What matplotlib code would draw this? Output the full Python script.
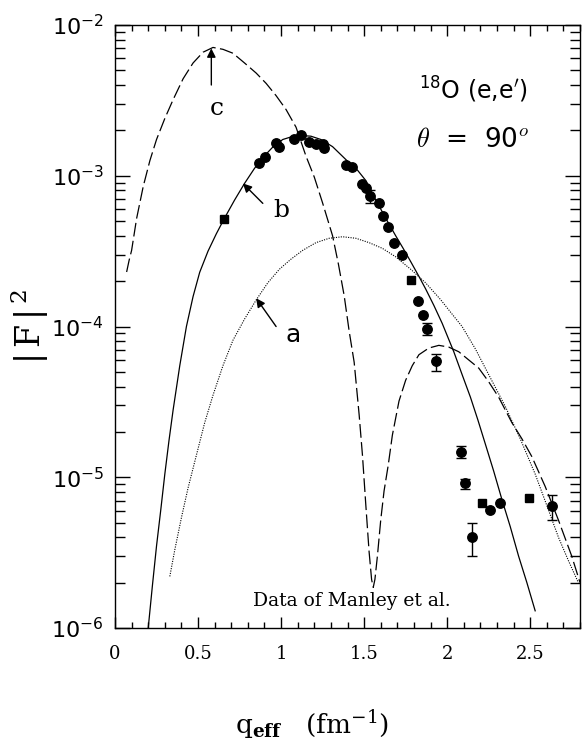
import numpy as np
import matplotlib.pyplot as plt
from matplotlib.ticker import MultipleLocator, FuncFormatter

plt.rcParams['font.family'] = 'DejaVu Serif'
plt.rcParams['mathtext.fontset'] = 'dejavuserif'

# Manley et al. data, |F|^2 vs q_eff (fm^-1)
q_circ = [0.866, 0.906, 0.970, 0.985, 1.078, 1.12, 1.17, 1.21, 1.254, 1.26,
          1.39, 1.43, 1.49, 1.51, 1.59, 1.616, 1.646, 1.68, 1.73, 1.826, 1.854,
          2.256, 2.32]
f_circ = [1.22e-3, 1.33e-3, 1.66e-3, 1.56e-3, 1.75e-3, 1.86e-3, 1.68e-3, 1.62e-3,
          1.62e-3, 1.52e-3, 1.17e-3, 1.14e-3, 8.8e-4, 8.3e-4, 6.56e-4, 5.37e-4,
          4.55e-4, 3.6e-4, 2.98e-4, 1.48e-4, 1.19e-4, 6.1e-6, 6.8e-6]
q_sq = [0.654, 1.78, 2.21, 2.49]
f_sq = [5.2e-4, 2.03e-4, 6.8e-6, 7.3e-6]

# points with error bars
q_err = [1.534, 1.88, 1.93, 2.085, 2.106, 2.15, 2.63]
f_err = [7.3e-4, 9.6e-5, 5.9e-5, 1.48e-5, 9.1e-6, 4.0e-6, 6.4e-6]
f_err_lo = [6.6e-4, 8.8e-5, 5.1e-5, 1.35e-5, 8.3e-6, 3.0e-6, 5.2e-6]
f_err_hi = [8.0e-4, 1.05e-4, 6.6e-5, 1.6e-5, 9.7e-6, 4.95e-6, 7.6e-6]

# curve a (dotted)
q_a = [0.33, 0.36, 0.40, 0.44, 0.49, 0.54, 0.59, 0.65, 0.71, 0.78, 0.85, 0.92,
       0.99, 1.06, 1.13, 1.21, 1.29, 1.37, 1.45, 1.53, 1.61, 1.69, 1.78, 1.87,
       1.96, 2.04, 2.09, 2.17, 2.25, 2.35, 2.44, 2.53, 2.60, 2.67, 2.73, 2.79]
f_a = [2.2e-6, 3.3e-6, 5.4e-6, 8.5e-6, 1.4e-5, 2.3e-5, 3.5e-5, 5.5e-5, 8.1e-5,
       1.12e-4, 1.5e-4, 1.95e-4, 2.4e-4, 2.8e-4, 3.2e-4, 3.6e-4, 3.85e-4, 3.94e-4,
       3.85e-4, 3.6e-4, 3.3e-4, 2.9e-4, 2.4e-4, 1.95e-4, 1.51e-4, 1.17e-4, 1.0e-4,
       7.1e-5, 4.8e-5, 2.95e-5, 1.8e-5, 1.05e-5, 6.5e-6, 4.0e-6, 2.8e-6, 2.0e-6]

# curve b (solid)
q_b = [0.20, 0.225, 0.25, 0.275, 0.30, 0.325, 0.35, 0.39, 0.43, 0.47, 0.51, 0.56,
       0.61, 0.66, 0.72, 0.78, 0.84, 0.89, 0.95, 1.01, 1.06, 1.12, 1.18, 1.24,
       1.31, 1.40, 1.46, 1.51, 1.55, 1.59, 1.64, 1.69, 1.735, 1.78, 1.83, 1.87,
       1.92, 1.97, 2.04, 2.09, 2.14, 2.185, 2.23, 2.28, 2.33, 2.38, 2.43, 2.48,
       2.53]
f_b = [1.0e-6, 1.9e-6, 3.5e-6, 6.0e-6, 1.05e-5, 1.75e-5, 2.8e-5, 5.5e-5, 1.0e-4,
       1.58e-4, 2.29e-4, 3.16e-4, 4.12e-4, 5.25e-4, 6.9e-4, 8.9e-4, 1.12e-3,
       1.32e-3, 1.55e-3, 1.74e-3, 1.81e-3, 1.85e-3, 1.83e-3, 1.74e-3, 1.56e-3,
       1.25e-3, 1.09e-3, 9.3e-4, 7.6e-4, 6.3e-4, 5.0e-4, 4.0e-4, 3.3e-4, 2.7e-4,
       2.15e-4, 1.78e-4, 1.38e-4, 1.05e-4, 6.8e-5, 4.8e-5, 3.4e-5, 2.4e-5, 1.66e-5,
       1.1e-5, 7.1e-6, 4.7e-6, 3.0e-6, 2.0e-6, 1.3e-6]

# curve c (dashed)
q_c = [0.07, 0.085, 0.10, 0.13, 0.17, 0.21, 0.25, 0.30, 0.35, 0.41, 0.47, 0.53,
       0.59, 0.65, 0.71, 0.78, 0.85, 0.91, 0.97, 1.03, 1.09, 1.15, 1.20, 1.25,
       1.31, 1.345, 1.38, 1.41, 1.44, 1.47, 1.49, 1.51, 1.53, 1.545, 1.555, 1.565,
       1.58, 1.60, 1.62, 1.645, 1.67, 1.71, 1.75, 1.79, 1.83, 1.89, 1.95, 2.01,
       2.07, 2.13, 2.19, 2.25, 2.31, 2.39, 2.45, 2.51, 2.59, 2.67, 2.75, 2.80]
f_c = [2.3e-4, 2.75e-4, 3.2e-4, 5.2e-4, 8.5e-4, 1.26e-3, 1.74e-3, 2.4e-3, 3.2e-3,
       4.4e-3, 5.6e-3, 6.6e-3, 7.1e-3, 6.9e-3, 6.5e-3, 5.6e-3, 4.8e-3, 4.1e-3,
       3.4e-3, 2.75e-3, 2.1e-3, 1.35e-3, 9.8e-4, 6.6e-4, 4.0e-4, 2.6e-4, 1.6e-4,
       9.3e-5, 5.8e-5, 2.6e-5, 1.4e-5, 6.6e-6, 3.2e-6, 2.1e-6, 1.86e-6, 2.1e-6,
       3.0e-6, 5.2e-6, 8.1e-6, 1.2e-5, 1.9e-5, 3.2e-5, 4.4e-5, 5.5e-5, 6.5e-5,
       7.2e-5, 7.5e-5, 7.3e-5, 6.8e-5, 6.0e-5, 5.3e-5, 4.3e-5, 3.4e-5, 2.3e-5,
       1.8e-5, 1.37e-5, 8.7e-6, 5.2e-6, 3.0e-6, 2.0e-6]

fig = plt.figure(figsize=(5.82, 7.47), dpi=100)
ax = fig.add_axes([0.1976, 0.1593, 0.7990, 0.8072])

ax.plot(q_a, f_a, color='black', lw=0.8, dashes=(1.0, 1.2))
ax.plot(q_b, f_b, color='black', lw=0.9)
ax.plot(q_c, f_c, color='black', lw=0.9, dashes=(11, 3.5))

ax.plot(q_circ, f_circ, 'o', color='black', ms=6.8)
ax.plot(q_sq, f_sq, 's', color='black', ms=6.2)
yerr = [np.array(f_err) - np.array(f_err_lo), np.array(f_err_hi) - np.array(f_err)]
ax.errorbar(q_err, f_err, yerr=yerr, fmt='o', color='black', ms=6.8,
            elinewidth=1, capsize=3.5, capthick=1)

ax.set_yscale('log')
ax.set_xlim(0, 2.8)
ax.set_ylim(1e-6, 1e-2)

ax.xaxis.set_major_locator(MultipleLocator(0.5))
ax.xaxis.set_minor_locator(MultipleLocator(0.1))
ax.xaxis.set_major_formatter(FuncFormatter(lambda v, p: f'{v:g}'))
ax.tick_params(which='both', direction='in', top=True, right=True, width=1)
ax.tick_params(axis='x', which='major', length=8, pad=12, labelsize=13)
ax.tick_params(axis='x', which='minor', length=4)
ax.tick_params(axis='y', which='major', length=10.5, pad=8, labelsize=16)
ax.tick_params(axis='y', which='minor', length=7)
for lab in ax.get_yticklabels():
    lab.set_fontfamily('DejaVu Sans')
    lab.set_math_fontfamily('dejavusans')
for sp in ax.spines.values():
    sp.set_linewidth(1)

# curve labels with arrows
arrow = dict(arrowstyle='-|>', color='black', lw=1, mutation_scale=13,
             shrinkA=0, shrinkB=0)
ax.annotate('', xy=(0.58, 7.0e-3), xytext=(0.58, 4.0e-3), arrowprops=arrow)
ax.text(0.61, 2.8e-3, 'c', fontsize=18, ha='center', va='center')
ax.annotate('', xy=(0.77, 8.9e-4), xytext=(0.89, 6.56e-4), arrowprops=arrow)
ax.text(1.0, 5.9e-4, 'b', fontsize=18, ha='center', va='center')
ax.annotate('', xy=(0.85, 1.54e-4), xytext=(0.97, 1.0e-4), arrowprops=arrow)
ax.text(1.07, 8.8e-5, 'a', fontsize=18, ha='center', va='center',
        family='DejaVu Sans')

ax.text(0.77, 0.892, r"$^{18}$O (e,e$'$)", transform=ax.transAxes, fontsize=17,
        ha='center', va='center', family='DejaVu Sans', math_fontfamily='dejavusans')
ax.text(0.77, 0.809, r'$\theta$  =  90$^o$', transform=ax.transAxes, fontsize=19,
        ha='center', va='center', family='DejaVu Sans', math_fontfamily='cm')
ax.text(0.509, 0.044, 'Data of Manley et al.', transform=ax.transAxes,
        fontsize=13.5, ha='center', va='center')

ax.text(-0.183, 0.5, r'$|\,\mathrm{F}\,|^{\,2}$', transform=ax.transAxes,
        fontsize=24, rotation=90, ha='center', va='center')
ax.text(0.424, -0.161, r'q$_{\mathbf{eff}}$   (fm$^{-1}$)', transform=ax.transAxes,
        fontsize=19, ha='center', va='center')

plt.savefig('out.png', dpi=100)
